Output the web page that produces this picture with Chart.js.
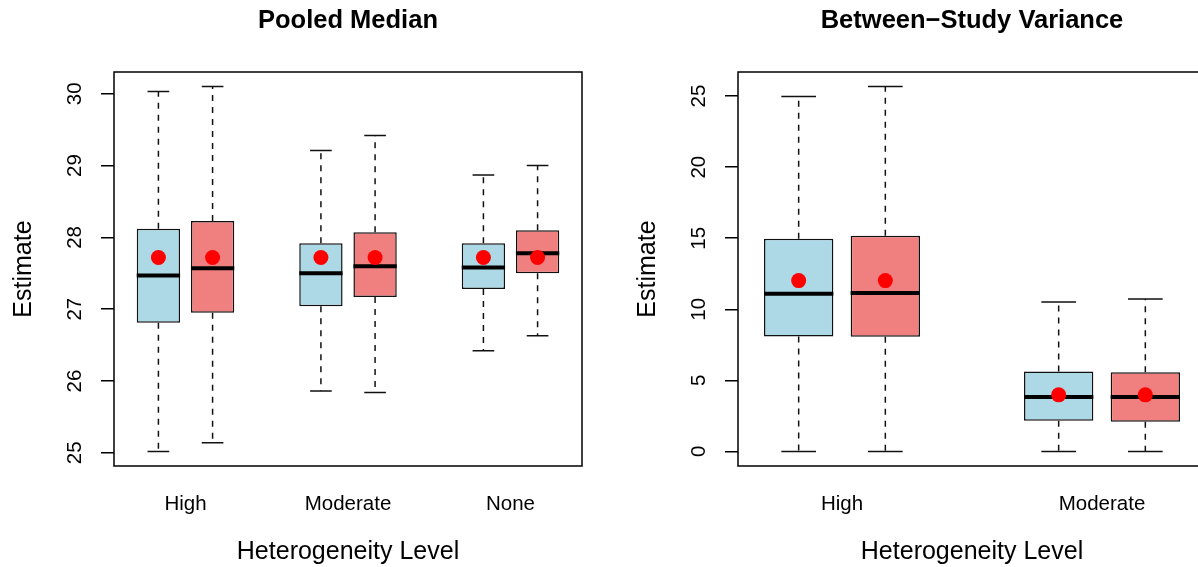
<!DOCTYPE html>
<html><head><meta charset="utf-8">
<script src="https://cdn.jsdelivr.net/npm/chart.js@4.4.0/dist/chart.umd.min.js"></script>
<style>
html,body{margin:0;padding:0;background:#fff;overflow:hidden;width:1198px;height:567px;}
#wrap{position:relative;width:1198px;height:567px;overflow:hidden;}
canvas{position:absolute;top:0;}
#c1{left:0;} #c2{left:624px;}
</style></head><body>
<div id="wrap"><canvas id="c1" width="696" height="567"></canvas><canvas id="c2" width="696" height="567"></canvas></div>
<script>
// ---------- Panel 1: Pooled Median ----------
const pmGroups = ['High', 'Moderate', 'None'];
const pmTicks = [25, 26, 27, 28, 29, 30];
const pmLowerA = [25.02, 25.86, 26.42];
const pmQ1A    = [26.81, 27.04, 27.28];
const pmMedA   = [27.47, 27.50, 27.58];
const pmQ3A    = [28.12, 27.92, 27.92];
const pmUpperA = [30.03, 29.21, 28.87];
const pmMeanA  = [27.72, 27.72, 27.72];
const pmLowerB = [25.14, 25.84, 26.63];
const pmQ1B    = [26.95, 27.17, 27.50];
const pmMedB   = [27.57, 27.60, 27.78];
const pmQ3B    = [28.23, 28.07, 28.10];
const pmUpperB = [30.10, 29.42, 29.00];
const pmMeanB  = [27.72, 27.72, 27.72];

// ---------- Panel 2: Between-Study Variance ----------
const vrGroups = ['High', 'Moderate'];
const vrTicks = [0, 5, 10, 15, 20, 25];
const vrLowerA = [0.00, 0.00];
const vrQ1A    = [8.08, 2.15];
const vrMedA   = [11.10, 3.82];
const vrQ3A    = [14.97, 5.62];
const vrUpperA = [24.98, 10.51];
const vrMeanA  = [12.02, 3.98];
const vrLowerB = [0.00, 0.00];
const vrQ1B    = [8.06, 2.08];
const vrMedB   = [11.15, 3.82];
const vrQ3B    = [15.18, 5.57];
const vrUpperB = [25.67, 10.73];
const vrMeanB  = [12.02, 3.98];

const COL_A = '#ADD8E6', COL_B = '#F08080';
const BOX_HALF = 0.4, CAP_HALF = 0.2;

Chart.defaults.font.family = '"Liberation Sans", Arial, Helvetica, sans-serif';
Chart.defaults.color = '#000';

const framePlugin = {
  id: 'frame',
  afterDatasetsDraw(chart) {
    const a = chart.chartArea, ctx = chart.ctx;
    ctx.save();
    ctx.strokeStyle = '#000';
    ctx.lineWidth = 1.5;
    ctx.strokeRect(a.left, a.top, a.right - a.left, a.bottom - a.top);
    ctx.restore();
  }
};

function buildSeries(pos, lower, q1, med, q3, upper, mean, color) {
  const boxes = pos.map((p, i) => ({x: p, y: [q1[i], q3[i]]}));
  const whisk = [], caps = [], meds = [], means = [];
  pos.forEach((p, i) => {
    whisk.push({x: p, y: q3[i]}, {x: p, y: upper[i]}, {x: p, y: null},
               {x: p, y: q1[i]}, {x: p, y: lower[i]}, {x: p, y: null});
    caps.push({x: p - CAP_HALF, y: upper[i]}, {x: p + CAP_HALF, y: upper[i]}, {x: p, y: null},
              {x: p - CAP_HALF, y: lower[i]}, {x: p + CAP_HALF, y: lower[i]}, {x: p, y: null});
    meds.push({x: p - BOX_HALF, y: med[i]}, {x: p + BOX_HALF, y: med[i]}, {x: p, y: null});
    means.push({x: p, y: mean[i]});
  });
  return [
    {type: 'bar', data: boxes, backgroundColor: color, borderColor: '#111', borderWidth: 1.5,
     borderSkipped: false, grouped: false, barPercentage: 0.8, categoryPercentage: 1, order: 3},
    {type: 'line', data: whisk, borderColor: '#111', borderWidth: 1.5, borderDash: [6, 6],
     pointRadius: 0, spanGaps: false, fill: false, order: 4},
    {type: 'line', data: caps, borderColor: '#111', borderWidth: 1.5,
     pointRadius: 0, spanGaps: false, fill: false, order: 4},
    {type: 'line', data: meds, borderColor: '#000', borderWidth: 4,
     pointRadius: 0, spanGaps: false, fill: false, order: 1},
    {type: 'line', data: means, showLine: false, pointRadius: 7.5, pointHoverRadius: 7.5,
     pointBackgroundColor: '#FF0000', pointBorderWidth: 0, pointBorderColor: '#FF0000', order: 0}
  ];
}

function makePanel(id, title, groups, ticks, A, B) {
  const posA = groups.map((g, i) => 3 * i + 1);
  const posB = groups.map((g, i) => 3 * i + 2);
  const centers = groups.map((g, i) => 3 * i + 1.5);
  const xlo = 0.5, xhi = posB[posB.length - 1] + 0.5;
  const xpad = 0.04 * (xhi - xlo);
  const ylo = Math.min(...A.lower, ...B.lower), yhi = Math.max(...A.upper, ...B.upper);
  const ypad = 0.04 * (yhi - ylo);
  const datasets = [
    ...buildSeries(posA, A.lower, A.q1, A.med, A.q3, A.upper, A.mean, COL_A),
    ...buildSeries(posB, B.lower, B.q1, B.med, B.q3, B.upper, B.mean, COL_B)
  ];
  return new Chart(document.getElementById(id), {
    type: 'bar',
    data: {datasets},
    plugins: [framePlugin],
    options: {
      responsive: false,
      animation: false,
      events: [],
      layout: {padding: 0},
      plugins: {
        legend: {display: false},
        tooltip: {enabled: false},
        title: {display: true, text: title, color: '#000',
                font: {size: 25.5, weight: 'bold'}, padding: {top: 6, bottom: 35.4}}
      },
      scales: {
        x: {
          type: 'linear', offset: false, min: xlo - xpad, max: xhi + xpad,
          afterBuildTicks: s => { s.ticks = centers.map(v => ({value: v})); },
          ticks: {callback: (v, i) => groups[i], autoSkip: false, maxRotation: 0,
                  font: {size: 20.5}, color: '#000', padding: 26.3},
          grid: {display: false, drawTicks: false, offset: false},
          border: {display: false},
          title: {display: true, text: 'Heterogeneity Level', color: '#000',
                  font: {size: 25}, padding: {top: 0, bottom: 0}},
          afterFit: s => { s.height = 101; }
        },
        y: {
          type: 'linear', position: 'left', min: ylo - ypad, max: yhi + ypad,
          afterBuildTicks: s => { s.ticks = ticks.map(v => ({value: v})); },
          ticks: {autoSkip: false, minRotation: 90, maxRotation: 90, crossAlign: 'center',
                  padding: 14, font: {size: 20.5}, color: '#000'},
          grid: {drawOnChartArea: false, drawTicks: true, tickLength: 13, color: '#000', lineWidth: 1.5},
          border: {display: false},
          title: {display: true, text: 'Estimate', color: '#000',
                  font: {size: 25}, padding: {top: 9.3, bottom: 0}},
          afterFit: s => { s.width = 114; }
        },
        yr: {
          type: 'linear', position: 'right', display: true,
          grid: {display: false, drawTicks: false}, ticks: {display: false},
          border: {display: false},
          afterFit: s => { s.width = 114; }
        }
      }
    }
  });
}

makePanel('c1', 'Pooled Median', pmGroups, pmTicks,
  {lower: pmLowerA, q1: pmQ1A, med: pmMedA, q3: pmQ3A, upper: pmUpperA, mean: pmMeanA},
  {lower: pmLowerB, q1: pmQ1B, med: pmMedB, q3: pmQ3B, upper: pmUpperB, mean: pmMeanB});

makePanel('c2', 'Between\u2212Study Variance', vrGroups, vrTicks,
  {lower: vrLowerA, q1: vrQ1A, med: vrMedA, q3: vrQ3A, upper: vrUpperA, mean: vrMeanA},
  {lower: vrLowerB, q1: vrQ1B, med: vrMedB, q3: vrQ3B, upper: vrUpperB, mean: vrMeanB});
</script>
</body></html>
